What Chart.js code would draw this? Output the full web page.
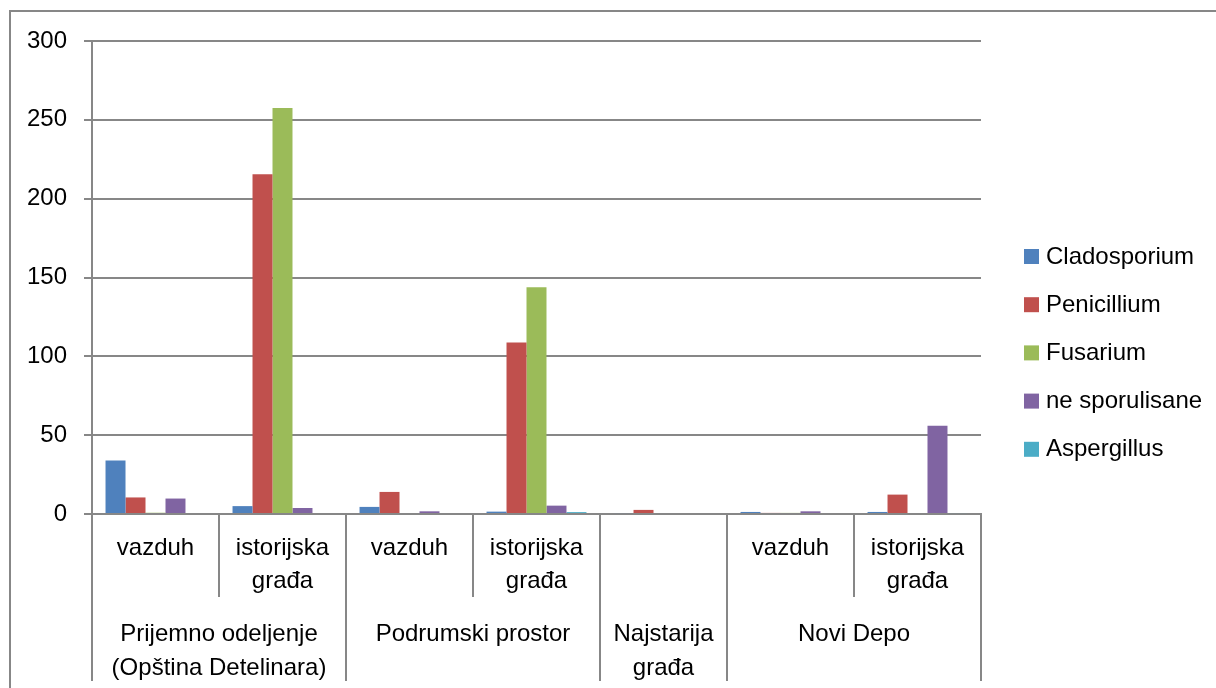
<!DOCTYPE html>
<html>
<head>
<meta charset="utf-8">
<script src="https://cdn.jsdelivr.net/npm/chart.js@4.4.1/dist/chart.umd.min.js"></script>
<style>
  body { margin: 0; background: #fff; }
  #wrap { width: 1216px; height: 688px; }
</style>
</head>
<body>
<div id="wrap"><canvas id="chart" width="1216" height="688"></canvas></div>
<script>
const subLabels = ["vazduh", "istorijska građa", "vazduh", "istorijska građa", "", "vazduh", "istorijska građa"]
const groupLabels = ["Prijemno odeljenje (Opština Detelinara)", "Podrumski prostor", "Najstarija građa", "Novi Depo"]
const groupSpans = [2, 2, 1, 2]
const groupLines = [["Prijemno odeljenje", "(Opština Detelinara)"], ["Podrumski prostor"], ["Najstarija", "građa"], ["Novi Depo"]]

const seriesNames = ["Cladosporium", "Penicillium", "Fusarium", "ne sporulisane", "Aspergillus"]
const cladosporium = [34, 5, 4.5, 1.5, 0.6, 1.3, 1.3]
const penicillium = [10.5, 215.5, 14, 108.7, 2.6, 0.7, 12.3]
const fusarium = [0.8, 257.5, 0, 143.8, 0, 0.7, 0]
const neSporulisane = [9.8, 3.8, 1.7, 5.3, 0, 1.7, 56]
const aspergillus = [0, 0, 0, 1.2, 0, 0, 0.6]
const colors = ["#4F81BD", "#C0504D", "#9BBB59", "#8064A2", "#4BACC6"]
const yTicks = [0, 50, 100, 150, 200, 250, 300]

const lineColor = "#878787"
const fontFamily = "'Liberation Sans', Arial, sans-serif"
const fontSize = 24

// table under the x axis, legend and outer frame
const tablePlugin = {
  id: "table",
  afterDraw(chart) {
    const ctx = chart.ctx
    const x = chart.scales.x
    const area = chart.chartArea
    const n = subLabels.length
    const centers = subLabels.map((l, i) => x.getPixelForValue(i))
    const bounds = [x.left]
    for (let i = 1; i < n; i++) bounds.push((centers[i - 1] + centers[i]) / 2)
    bounds.push(x.right)

    const subBottom = area.bottom + 83
    const tableBottom = area.bottom + 167

    ctx.save()
    ctx.strokeStyle = lineColor
    ctx.lineWidth = 2

    // group boundaries
    const groupStarts = [0]
    groupSpans.forEach((s, i) => groupStarts.push(groupStarts[i] + s))
    ctx.beginPath()
    for (let i = 0; i <= n; i++) {
      const isGroup = groupStarts.includes(i)
      ctx.moveTo(bounds[i], area.bottom)
      ctx.lineTo(bounds[i], isGroup ? tableBottom : subBottom)
    }
    ctx.stroke()

    ctx.fillStyle = "#000"
    ctx.font = fontSize + "px " + fontFamily
    ctx.textAlign = "center"
    ctx.textBaseline = "middle"
    subLabels.forEach((label, i) => {
      const words = label.split(" ")
      words.forEach((w, j) => {
        ctx.fillText(w, centers[i], area.bottom + 34 + j * 33)
      })
    })
    groupLines.forEach((lines, g) => {
      const cx = (bounds[groupStarts[g]] + bounds[groupStarts[g + 1]]) / 2
      lines.forEach((l, j) => {
        ctx.fillText(l, cx, area.bottom + 120 + j * 34)
      })
    })

    // legend
    ctx.textAlign = "left"
    seriesNames.forEach((name, i) => {
      const cy = 256 + i * 48.2
      ctx.fillStyle = colors[i]
      ctx.fillRect(1024, cy - 7, 15, 15)
      ctx.fillStyle = "#000"
      ctx.fillText(name, 1046, cy + 1)
    })

    // outer frame
    ctx.strokeStyle = lineColor
    ctx.lineWidth = 2
    ctx.beginPath()
    ctx.moveTo(10, 688)
    ctx.lineTo(10, 11)
    ctx.lineTo(1216, 11)
    ctx.stroke()
    ctx.restore()
  }
}

const datasets = [cladosporium, penicillium, fusarium, neSporulisane, aspergillus].map((d, i) => ({
  label: seriesNames[i],
  data: d,
  backgroundColor: colors[i],
  borderWidth: 0
}))

new Chart(document.getElementById("chart"), {
  type: "bar",
  data: { labels: subLabels, datasets: datasets },
  plugins: [tablePlugin],
  options: {
    responsive: false,
    animation: false,
    layout: { padding: { top: 41, right: 235, left: 0, bottom: 0 } },
    datasets: { bar: { categoryPercentage: 0.787, barPercentage: 1.0 } },
    plugins: {
      legend: { display: false },
      tooltip: { enabled: false }
    },
    scales: {
      x: {
        ticks: { display: false },
        grid: { display: false },
        border: { display: true, color: lineColor, width: 2 },
        afterFit(scale) { scale.height = 174 }
      },
      y: {
        min: 0,
        max: 300,
        afterBuildTicks(scale) { scale.ticks = yTicks.map(v => ({ value: v })) },
        ticks: {
          padding: 17,
          color: "#000",
          font: { family: fontFamily, size: fontSize }
        },
        grid: { color: lineColor, lineWidth: 2, tickLength: 8 },
        border: { display: true, color: lineColor, width: 2 },
        afterFit(scale) { scale.width = 92 }
      }
    }
  }
})
</script>
</body>
</html>
